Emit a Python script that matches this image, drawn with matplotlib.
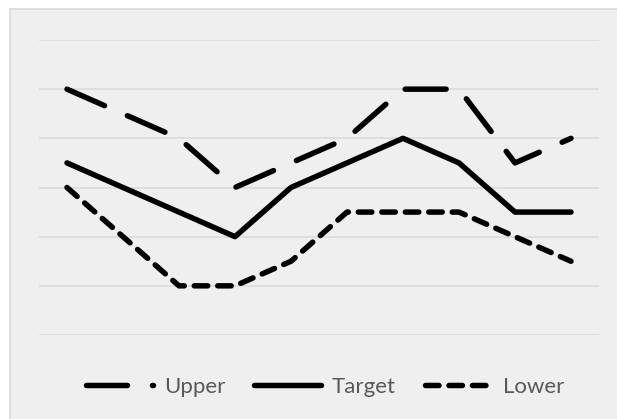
import matplotlib
matplotlib.use("Agg")
import matplotlib.pyplot as plt
from matplotlib.patches import Rectangle

plt.rcParams["font.family"] = ["Lato", "DejaVu Sans"]
plt.rcParams["lines.scale_dashes"] = False

# Data
categories = ["1", "2", "3", "4", "5", "6", "7", "8", "9", "10"]
upper = [5, 4.5, 4, 3, 3.5, 4, 5, 5, 3.5, 4]
target = [3.5, 3, 2.5, 2, 3, 3.5, 4, 3.5, 2.5, 2.5]
lower = [3, 2, 1, 1, 1.5, 2.5, 2.5, 2.5, 2, 1.5]
series_names = ["Upper", "Target", "Lower"]
y_ticks = [0, 1, 2, 3, 4, 5, 6]

W, H, DPI = 617, 419, 100
fig = plt.figure(figsize=(W / DPI, H / DPI), dpi=DPI)
fig.patch.set_facecolor("white")

# Chart area panel
px = 1.0 / W
py = 1.0 / H
fig.patches.append(Rectangle((9.5 * px, -0.05), 1.1, 1 - 9.5 * py + 0.05,
                             transform=fig.transFigure, facecolor="#EFEFEF",
                             edgecolor="#D9D9D9", linewidth=1.2, zorder=-10))

# Plot area
left, right = 39 * px, 599 * px
top, bottom = 1 - 40 * py, 1 - 335 * py
ax = fig.add_axes([left, bottom, right - left, top - bottom])
ax.set_zorder(1)
ax.set_facecolor("none")
for s in ax.spines.values():
    s.set_visible(False)

x = list(range(len(categories)))
ax.set_xlim(-0.5, len(categories) - 0.5)
ax.set_ylim(y_ticks[0], y_ticks[-1])
ax.set_yticks(y_ticks)
ax.set_xticks([])
ax.tick_params(left=False, labelleft=False, bottom=False, labelbottom=False)
ax.yaxis.grid(True, color="#D9D9D9", linewidth=1.1)
ax.set_axisbelow(True)

lw = 3.95
common = dict(color="black", linewidth=lw, dash_capstyle="round",
              solid_capstyle="round", solid_joinstyle="round",
              dash_joinstyle="round", clip_on=False)
l1, = ax.plot(x, upper, linestyle=(0, (29.5, 18.0)), label=series_names[0], **common)
l2, = ax.plot(x, target, linestyle="-", label=series_names[1], **common)
l3, = ax.plot(x, lower, linestyle=(0, (9.7, 7.2)), label=series_names[2], **common)

fig.legend(handles=[l1, l2, l3], loc="center", bbox_to_anchor=(0.527, 1 - 387 * py),
           ncol=3, frameon=False, fontsize=16, labelcolor="#595959",
           handlelength=3.0, handletextpad=0.5, columnspacing=1.3,
           borderpad=0, borderaxespad=0)

fig.savefig("out.png", dpi=DPI, facecolor=fig.get_facecolor())
